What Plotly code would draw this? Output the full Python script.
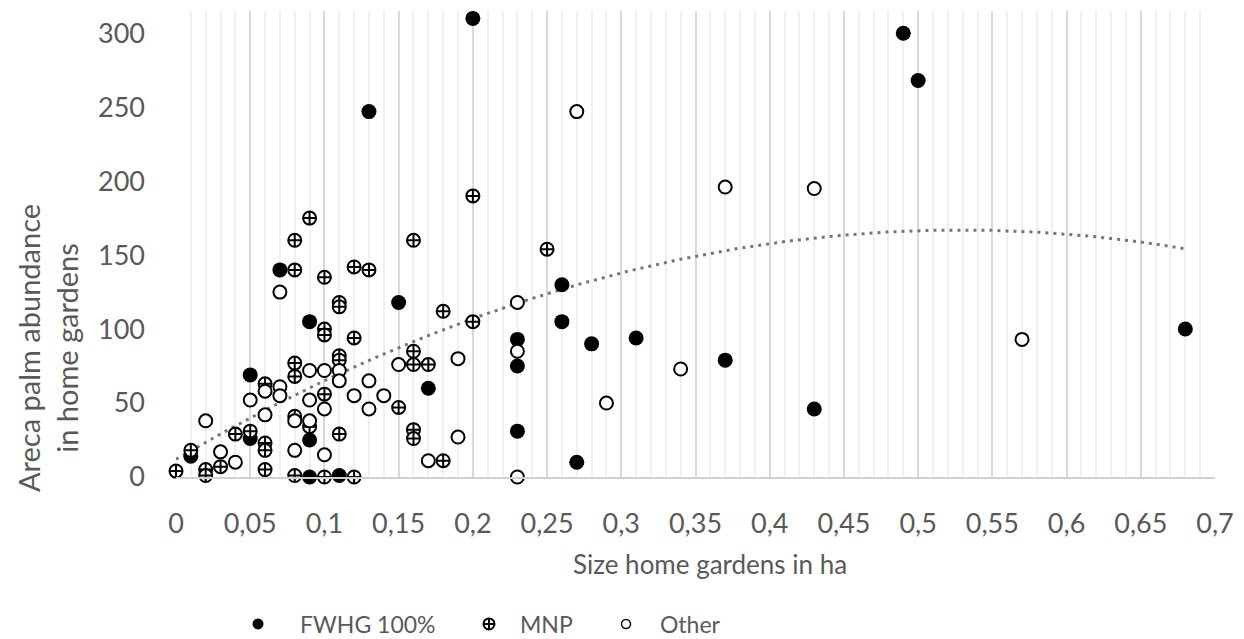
import numpy as np
import plotly.graph_objects as go

# ---- data ----
fwhg_x = [0.01, 0.05, 0.05, 0.07, 0.09, 0.09, 0.09, 0.11, 0.13, 0.15, 0.17, 0.20, 0.23, 0.23, 0.23,
          0.26, 0.26, 0.27, 0.28, 0.31, 0.37, 0.43, 0.49, 0.50, 0.68]
fwhg_y = [14, 69, 26, 140, 105, 25, 0, 1, 247, 118, 60, 310, 93, 75, 31,
          130, 105, 10, 90, 94, 79, 46, 300, 268, 100]

mnp_x = [0, 0.01, 0.02, 0.02, 0.03, 0.04, 0.05, 0.06, 0.06, 0.06, 0.06,
         0.08, 0.08, 0.08, 0.08, 0.08, 0.08, 0.09, 0.09, 0.10, 0.10, 0.10, 0.10, 0.10,
         0.11, 0.11, 0.11, 0.11, 0.11, 0.12, 0.12, 0.12, 0.13, 0.15,
         0.16, 0.16, 0.16, 0.16, 0.16, 0.17, 0.18, 0.18, 0.20, 0.20, 0.25]
mnp_y = [4, 18, 5, 1, 7, 29, 31, 63, 23, 18, 5,
         160, 140, 77, 68, 41, 1, 175, 34, 135, 100, 96, 56, 0,
         118, 115, 82, 79, 29, 142, 94, 0, 140, 47,
         160, 85, 76, 32, 26, 76, 112, 11, 190, 105, 154]

other_x = [0.02, 0.03, 0.04, 0.05, 0.06, 0.06, 0.07, 0.07, 0.07, 0.08, 0.08,
           0.09, 0.09, 0.09, 0.10, 0.10, 0.10, 0.11, 0.11, 0.12, 0.13, 0.13, 0.14,
           0.15, 0.17, 0.19, 0.19, 0.23, 0.23, 0.23, 0.27, 0.29, 0.34, 0.37, 0.43, 0.57]
other_y = [38, 17, 10, 52, 58, 42, 125, 61, 55, 38, 18,
           72, 52, 38, 72, 46, 15, 72, 65, 55, 65, 46, 55,
           76, 11, 80, 27, 118, 85, 0, 247, 50, 73, 196, 195, 93]

# order-2 polynomial trendline as drawn in the reference (coefficients:
# highest power first), spanning the data's x extent
trend_coef = [-554.0, 586.0, 12.0]

x_tick_vals = [0, 0.05, 0.1, 0.15, 0.2, 0.25, 0.3, 0.35, 0.4, 0.45, 0.5, 0.55, 0.6, 0.65, 0.7]
x_tick_text = ["0", "0,05", "0,1", "0,15", "0,2", "0,25", "0,3", "0,35", "0,4", "0,45",
               "0,5", "0,55", "0,6", "0,65", "0,7"]
y_tick_vals = [0, 50, 100, 150, 200, 250, 300]

series_names = ["FWHG 100%", "MNP", "Other"]
x_title = "Size home gardens in ha"
y_title = "Areca palm abundance<br>in home gardens"

all_x = np.array(fwhg_x + mnp_x + other_x)
tx = np.linspace(all_x.min(), all_x.max(), 200)
ty = np.polyval(trend_coef, tx)

TXT = "#595959"
FONT = "Lato, 'Open Sans', sans-serif"

# layout geometry (the page body adds an 8px offset)
W, H = 1236, 631
ML, MR, MT, MB = 168, 29, 3, 162
PW = W - ML - MR
PH = H - MT - MB


def px_x(p):  # figure px -> paper x
    return (p - ML) / PW


def px_y(p):  # figure px -> paper y
    return (H - MB - p) / PH


fig = go.Figure()

fig.add_trace(go.Scatter(x=tx, y=ty, mode="lines", showlegend=False, hoverinfo="skip",
                         line=dict(color="#767676", width=3, dash="3px,5px")))

fig.add_trace(go.Scatter(x=fwhg_x, y=fwhg_y, mode="markers", name=series_names[0],
                         showlegend=False, cliponaxis=False,
                         marker=dict(symbol="circle", size=15, color="black",
                                     line=dict(color="black", width=0))))
fig.add_trace(go.Scatter(x=mnp_x, y=mnp_y, mode="markers", name=series_names[1],
                         showlegend=False, cliponaxis=False,
                         marker=dict(symbol="circle-cross", size=13, color="white",
                                     line=dict(color="black", width=2))))
fig.add_trace(go.Scatter(x=other_x, y=other_y, mode="markers", name=series_names[2],
                         showlegend=False, cliponaxis=False,
                         marker=dict(symbol="circle", size=13, color="white",
                                     line=dict(color="black", width=2))))

# legend-only entries (smaller symbols as in the reference legend)
fig.add_trace(go.Scatter(x=[None], y=[None], mode="markers", name=series_names[0], legend="legend",
                         marker=dict(symbol="circle", size=11, color="black")))
fig.add_trace(go.Scatter(x=[None], y=[None], mode="markers", name=series_names[1], legend="legend2",
                         marker=dict(symbol="circle-cross", size=11, color="white",
                                     line=dict(color="black", width=2))))
fig.add_trace(go.Scatter(x=[None], y=[None], mode="markers", name=series_names[2], legend="legend3",
                         marker=dict(symbol="circle", size=9, color="white",
                                     line=dict(color="black", width=1.5))))

leg_common = dict(orientation="h", yanchor="middle", y=px_y(616), xanchor="left",
                  font=dict(family=FONT, size=23, color=TXT), bgcolor="rgba(0,0,0,0)")

fig.update_layout(
    width=W, height=H, autosize=False,
    margin=dict(l=ML, r=MR, t=MT, b=MB, autoexpand=False),
    paper_bgcolor="white", plot_bgcolor="white",
    font=dict(family=FONT, size=24, color=TXT),
    legend=dict(leg_common, x=px_x(208), itemwidth=74),
    legend2=dict(leg_common, x=px_x(450), itemwidth=52),
    legend3=dict(leg_common, x=px_x(584), itemwidth=58),
    xaxis=dict(range=[0, 0.7], tickvals=x_tick_vals, ticktext=x_tick_text,
               showgrid=True, gridcolor="#d9d9d9", gridwidth=1.5,
               minor=dict(dtick=0.01, showgrid=True, gridcolor="#f0f0f0", gridwidth=1.5),
               zeroline=False, showline=True, linecolor="#d0d0d0", linewidth=1.5,
               ticks="", ticklabelstandoff=22,
               tickfont=dict(family=FONT, size=27, color=TXT)),
    yaxis=dict(range=[0, 315], tickvals=y_tick_vals, showgrid=False, zeroline=False,
               showline=False, ticks="", ticklabelstandoff=30,
               tickfont=dict(family=FONT, size=27, color=TXT)),
    annotations=[
        dict(text=x_title, xref="paper", yref="paper", x=px_x(702), y=px_y(556),
             xanchor="center", yanchor="middle", showarrow=False,
             font=dict(family=FONT, size=26, color=TXT)),
        dict(text=y_title, xref="paper", yref="paper", x=px_x(39), y=px_y(340),
             xanchor="center", yanchor="middle", showarrow=False, textangle=-90,
             borderpad=0, font=dict(family=FONT, size=29, color=TXT)),
    ],
)

fig.write_html("out.html")
